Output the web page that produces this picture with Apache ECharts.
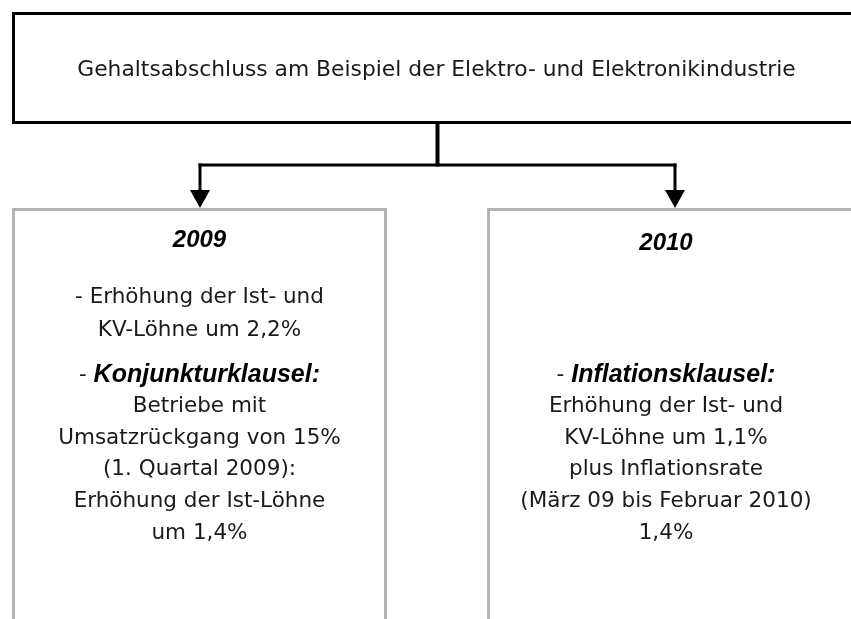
<!DOCTYPE html>
<html>
<head>
<meta charset="utf-8">
<script src="https://cdn.jsdelivr.net/npm/echarts@6/dist/echarts.min.js"></script>
<style>html,body{margin:0;padding:0;background:#fff}#c{width:851px;height:619px}</style>
</head>
<body>
<div id="c"></div>
<script>
// ---- content ----
const title = "Gehaltsabschluss am Beispiel der Elektro- und Elektronikindustrie";
const years = ["2009", "2010"];
const leftIntro = ["- Erhöhung der Ist- und", "KV-Löhne um 2,2%"];
const leftClauseLabel = "Konjunkturklausel:";
const leftClauseLines = ["Betriebe mit", "Umsatzrückgang von 15%", "(1. Quartal 2009):", "Erhöhung der Ist-Löhne", "um 1,4%"];
const rightClauseLabel = "Inflationsklausel:";
const rightClauseLines = ["Erhöhung der Ist- und", "KV-Löhne um 1,1%", "plus Inflationsrate", "(März 09 bis Februar 2010)", "1,4%"];

// ---- layout ----
const REG = '"DejaVu Sans", sans-serif';
const BI = '"Liberation Sans", Arial, sans-serif';
const TXT = '#1a1a1a';
const GREY = '#b4b4b4';
const leftCx = 199.5, rightCx = 666;
const clauseY0 = 375, clauseStep = 31.6;

const chart = echarts.init(document.getElementById('c'), null, {renderer: 'canvas'});

function line(x1, y1, x2, y2, w, color) {
  return {type: 'line', shape: {x1, y1, x2, y2}, style: {stroke: color, lineWidth: w, lineCap: 'butt'}};
}
function arrowHead(cx, yTop, yTip, hw) {
  return {type: 'polygon', shape: {points: [[cx - hw, yTop], [cx + hw, yTop], [cx, yTip]]}, style: {fill: '#000'}};
}
function regText(str, x, y, size) {
  return {type: 'text', x, y, style: {text: str, font: (size || 21.5) + 'px ' + REG, fill: TXT, align: 'center', verticalAlign: 'middle'}};
}
function labelText(label, x, y) {
  return {type: 'text', x, y, style: {
    text: '- {b|' + label + '}', font: '21.5px ' + REG, fill: TXT, align: 'center', verticalAlign: 'middle',
    rich: {b: {font: 'italic bold 25px ' + BI, fill: '#000'}}
  }};
}
function yearText(str, x, y) {
  return {type: 'text', x, y, style: {text: str, font: 'italic bold 24px ' + BI, fill: '#000', align: 'center', verticalAlign: 'middle'}};
}

const els = [];
// boxes
els.push({type: 'rect', shape: {x: 13.5, y: 13.5, width: 900, height: 109}, style: {fill: '#fff', stroke: '#000', lineWidth: 3}});
els.push({type: 'rect', shape: {x: 13.5, y: 209.5, width: 372, height: 500}, style: {fill: '#fff', stroke: GREY, lineWidth: 3}});
els.push({type: 'rect', shape: {x: 488.5, y: 209.5, width: 500, height: 500}, style: {fill: '#fff', stroke: GREY, lineWidth: 3}});
// connectors
els.push(line(437.5, 124, 437.5, 166.5, 4, '#000'));
els.push(line(198.5, 165, 676.5, 165, 3, '#000'));
els.push(line(200, 163.5, 200, 192, 3, '#000'));
els.push(line(675, 163.5, 675, 192, 3, '#000'));
els.push(arrowHead(200, 190, 208, 10));
els.push(arrowHead(675, 190, 208, 10));
// title
els.push(regText(title, 436.5, 70, 21.8));
// years
els.push(yearText(years[0], leftCx, 240));
els.push(yearText(years[1], rightCx, 243));
// left content
leftIntro.forEach((s, i) => els.push(regText(s, leftCx, 297 + i * 33)));
els.push(labelText(leftClauseLabel, leftCx, clauseY0));
leftClauseLines.forEach((s, i) => els.push(regText(s, leftCx, clauseY0 + (i + 1) * clauseStep)));
// right content
els.push(labelText(rightClauseLabel, rightCx, clauseY0));
rightClauseLines.forEach((s, i) => els.push(regText(s, rightCx, clauseY0 + (i + 1) * clauseStep)));

chart.setOption({backgroundColor: '#fff', animation: false, graphic: {elements: els}});
</script>
</body>
</html>
